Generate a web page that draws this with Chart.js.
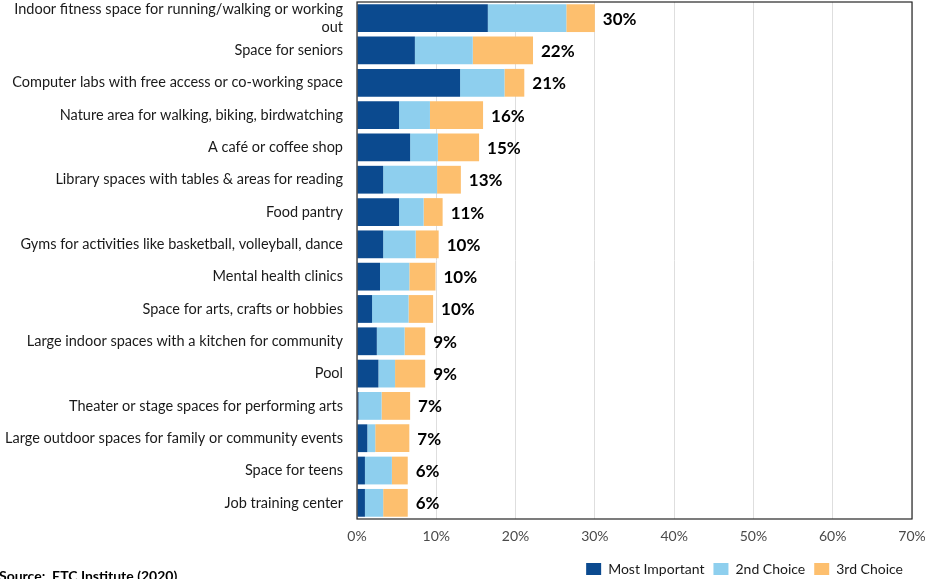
<!DOCTYPE html>
<html>
<head>
<meta charset="utf-8">
<script src="https://cdn.jsdelivr.net/npm/chart.js@4.4.1/dist/chart.umd.min.js"></script>
<style>
  html, body { margin: 0; padding: 0; background: #ffffff; }
  #wrap { position: relative; width: 925px; height: 579px; }
</style>
</head>
<body>
<div id="wrap"><canvas id="chart" width="925" height="579"></canvas></div>
<script>
// Facilities respondents would most like to see (sum of top three choices)
const categories = [
  ['Indoor fitness space for running/walking or working', 'out'],
  'Space for seniors',
  'Computer labs with free access or co-working space',
  'Nature area for walking, biking, birdwatching',
  'A café or coffee shop',
  'Library spaces with tables & areas for reading',
  'Food pantry',
  'Gyms for activities like basketball, volleyball, dance',
  'Mental health clinics',
  'Space for arts, crafts or hobbies',
  'Large indoor spaces with a kitchen for community',
  'Pool',
  'Theater or stage spaces for performing arts',
  'Large outdoor spaces for family or community events',
  'Space for teens',
  'Job training center'
];
const mostImportant = [16.5, 7.3, 13.0, 5.3, 6.7, 3.3, 5.3, 3.3, 2.9, 1.9, 2.5, 2.7, 0.2, 1.3, 1.0, 1.0];
const secondChoice  = [ 9.9, 7.3,  5.6, 3.9, 3.5, 6.8, 3.1, 4.1, 3.7, 4.6, 3.5, 2.1, 2.9, 1.0, 3.4, 2.3];
const thirdChoice   = [ 3.6, 7.6,  2.5, 6.7, 5.2, 3.0, 2.4, 2.9, 3.3, 3.1, 2.6, 3.8, 3.6, 4.3, 2.0, 3.1];
const seriesNames = ['Most Important', '2nd Choice', '3rd Choice'];
const xTicks = [0, 10, 20, 30, 40, 50, 60, 70];
const sourceNote = 'Source:  ETC Institute (2020)';

const FONT = 'Lato, "Open Sans", sans-serif';

// Total of the three choices, written at the end of each bar
const totalLabels = {
  id: 'totalLabels',
  afterDatasetsDraw(chart) {
    const ctx = chart.ctx;
    const xs = chart.scales.x, ys = chart.scales.y;
    ctx.save();
    ctx.font = 'bold 17px ' + FONT;
    ctx.fillStyle = '#000000';
    ctx.textAlign = 'left';
    ctx.textBaseline = 'middle';
    categories.forEach((c, i) => {
      const total = chart.data.datasets.reduce((s, d) => s + d.data[i], 0);
      const x = xs.getPixelForValue(total) + 8;
      const y = ys.getPixelForValue(i);
      ctx.fillText(Math.round(total) + '%', x, y + 1);
    });
    ctx.restore();
  }
};

// Frame around the plot area and the source note
const frameAndNote = {
  id: 'frameAndNote',
  afterDraw(chart) {
    const ctx = chart.ctx;
    const a = chart.chartArea;
    ctx.save();
    ctx.strokeStyle = '#262626';
    ctx.lineWidth = 1.2;
    ctx.strokeRect(a.left, a.top, a.right - a.left, a.bottom - a.top);
    ctx.font = 'bold 14px ' + FONT;
    ctx.fillStyle = '#000000';
    ctx.textAlign = 'left';
    ctx.textBaseline = 'alphabetic';
    ctx.fillText(sourceNote, -1, 581);
    ctx.restore();
  }
};

const colors = ['#0b4a8f', '#8ecfee', '#fdbf6e'];
const seriesData = [mostImportant, secondChoice, thirdChoice];

new Chart(document.getElementById('chart'), {
  type: 'bar',
  data: {
    labels: categories,
    datasets: seriesNames.map((name, k) => ({
      label: name,
      data: seriesData[k],
      backgroundColor: colors[k],
      borderWidth: 0,
      barPercentage: 0.86,
      categoryPercentage: 1.0
    }))
  },
  options: {
    indexAxis: 'y',
    responsive: false,
    animation: false,
    layout: { padding: { left: 0, right: 13, top: 2, bottom: -7 } },
    scales: {
      x: {
        stacked: true,
        min: 0,
        max: 70,
        afterBuildTicks(s) { s.ticks = xTicks.map(v => ({ value: v })); },
        afterFit(s) { s.height = 34; s.paddingLeft = 0; s.paddingRight = 0; },
        ticks: {
          callback: v => v + '%',
          font: { family: FONT, size: 14 },
          color: '#4a4a4a',
          padding: 9
        },
        grid: { color: '#dedede', drawTicks: false },
        border: { display: false }
      },
      y: {
        stacked: true,
        afterFit(s) { s.width = 357; s.paddingTop = 0; s.paddingBottom = 0; },
        ticks: {
          font: { family: FONT, size: 14.5 },
          color: '#1a1a1a',
          padding: 14,
          autoSkip: false
        },
        grid: { display: false, drawTicks: false },
        border: { display: false }
      }
    },
    plugins: {
      legend: {
        position: 'bottom',
        align: 'end',
        labels: {
          boxWidth: 15,
          boxHeight: 12,
          padding: 9,
          color: '#1a1a1a',
          font: { family: FONT, size: 14 }
        }
      },
      tooltip: { enabled: false }
    }
  },
  plugins: [totalLabels, frameAndNote]
});
</script>
</body>
</html>
